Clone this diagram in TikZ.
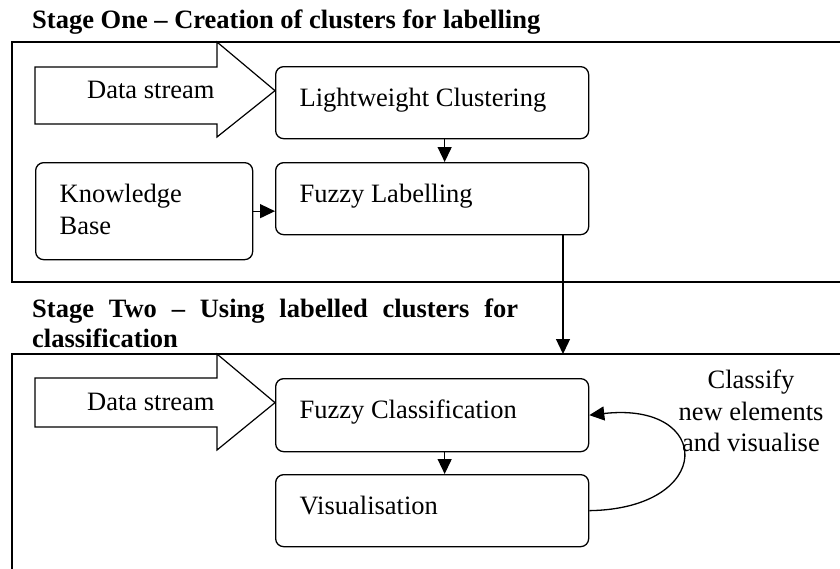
\documentclass[tikz,border=0pt]{standalone}
\usepackage{fontspec}
\setmainfont{Liberation Serif}
\usepackage{tikz}
\usetikzlibrary{arrows.meta,positioning,calc}

\tikzset{
  procbox/.style={draw, rounded corners=8pt, line width=1.3pt, anchor=north west,
    align=flush left, inner xsep=24pt, inner ysep=0pt, text height=40pt},
  stageframe/.style={draw, line width=1.1pt},
  flowarrow/.style={-{Triangle[length=15pt,width=14pt]}, line width=1.3pt},
  streamarrow/.style={draw, line width=1.2pt, line join=miter},
  stagetitle/.style={font=\fontsize{26.5}{30}\selectfont\bfseries, inner sep=0pt}
}

\begin{document}
\begin{tikzpicture}[x=1pt, y=-1pt, font=\fontsize{26.5}{31.5}\selectfont]
  \useasboundingbox (0,0) rectangle (840,568);
  \clip (0,0) rectangle (840,568);

  % stage one
  \node[stagetitle, anchor=base west] (titleone) at (32,28)
    {Stage One -- Creation of clusters for labelling};
  \draw[stageframe] (12,42) rectangle (860,282);

  \node[procbox, text width=265pt, text depth=32pt] (lc) at (275,66) {Lightweight Clustering};
  \node[procbox, text width=265pt, text depth=32pt] (fl) at (275,162) {Fuzzy Labelling};
  \node[procbox, text width=169pt, text depth=57pt] (kb) at (35,162) {Knowledge\\Base};

  \coordinate (tipone) at ([yshift=12pt]lc.west);
  \draw[streamarrow] (35,67) -- (217,67) -- (217,42) -- (tipone) -- (217,137)
    -- (217,124) -- (35,124) -- cycle;
  \node[anchor=base west, inner sep=0pt] (dsone) at (87,98) {Data stream};

  \draw[flowarrow] ([xshift=12.5pt]lc.south) -- ([xshift=12.5pt]fl.north);
  \draw[flowarrow] (kb.east) -- (kb.east -| fl.west);

  % stage two
  \node[stagetitle, anchor=base west, text width=486pt, align=justify] (titletwo) at (32,317)
    {Stage Two -- Using labelled clusters for \mbox{classification}};
  \draw[stageframe] (12,354) rectangle (860,600);
  \coordinate (stagetwotop) at (563,354);
  \draw[flowarrow] (fl.south -| stagetwotop) -- (stagetwotop);

  \node[procbox, text width=265pt, text depth=33pt] (fc) at (275,378) {Fuzzy Classification};
  \node[procbox, text width=265pt, text depth=32pt] (vis) at (275,474) {Visualisation};

  \coordinate (tiptwo) at ([yshift=12.5pt]fc.west);
  \draw[streamarrow] (35,378) -- (217,378) -- (217,354) -- (tiptwo) -- (217,450)
    -- (217,427) -- (35,427) -- cycle;
  \node[anchor=base west, inner sep=0pt] (dstwo) at (87,410) {Data stream};

  \draw[flowarrow] ([xshift=12.5pt]fc.south) -- ([xshift=12.5pt]vis.north);
  \draw[flowarrow] (vis.east) .. controls +(126,-2) and +(124,-14) .. (fc.east);
  \node[align=center, anchor=north, inner sep=0pt] (classify) at (751,370)
    {Classify\\new elements\\and visualise};
\end{tikzpicture}
\end{document}
